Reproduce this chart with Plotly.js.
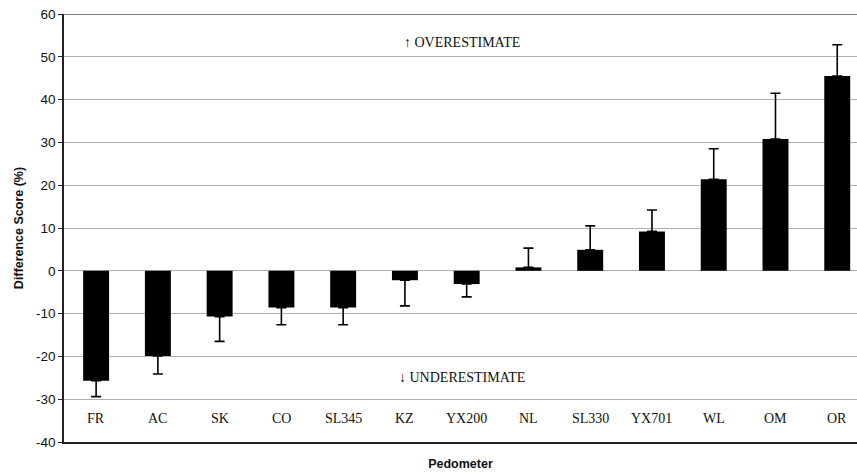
<!DOCTYPE html>
<html><head><meta charset="utf-8">
<script src="https://cdn.plot.ly/plotly-3.0.1.min.js"></script>
<style>html,body{margin:0;padding:0;background:#fff}#chart{width:857px;height:473px}</style>
</head><body><div id="chart"></div>
<script>
const categories = ["FR","AC","SK","CO","SL345","KZ","YX200","NL","SL330","YX701","WL","OM","OR"];
const meanDiff   = [-25.7,-19.9,-10.7,-8.6,-8.6,-2.2,-3.1,0.8,4.9,9.2,21.4,30.8,45.5];
const errSD      = [3.7,4.2,5.8,4.0,4.0,6.0,3.0,4.5,5.6,5.0,7.1,10.7,7.3];
const yTicks     = [-40,-30,-20,-10,0,10,20,30,40,50,60];
const notes      = [{text:"↑ OVERESTIMATE", x:5.93, y:53.3},{text:"↓ UNDERESTIMATE", x:5.93, y:-24.9}];
const labelY     = -34.6;

const errUp   = meanDiff.map((v,i)=> v>=0 ? errSD[i] : 0);
const errDown = meanDiff.map((v,i)=> v<0 ? errSD[i] : 0);

const trace = {
  type:'bar', x:categories, y:meanDiff,
  marker:{color:'#000'}, width:0.42,
  error_y:{type:'data', symmetric:false, array:errUp, arrayminus:errDown, color:'#000', thickness:1.6, width:5}
};

const annotations = categories.map(c=>({x:c, y:labelY, text:c, showarrow:false, xref:'x', yref:'y',
  font:{family:'Liberation Serif, Times New Roman, serif', size:14, color:'#111'}}))
 .concat(notes.map(n=>({x:n.x, y:n.y, text:n.text, showarrow:false, xref:'x', yref:'y',
  font:{family:'Liberation Serif, Times New Roman, serif', size:14, color:'#111'}})));

const layout = {
  width:857, height:473,
  margin:{l:64, r:0, t:14, b:31},
  paper_bgcolor:'#fff', plot_bgcolor:'#fff',
  showlegend:false,
  font:{family:'Liberation Sans, Arial, sans-serif', color:'#111'},
  xaxis:{type:'category', range:[-0.52,12.32], showticklabels:false, ticks:'', showgrid:false,
    showline:true, linecolor:'#222', linewidth:1.5, zeroline:false,
    title:{text:'<b>Pedometer</b>', font:{size:12.5, family:'Liberation Sans, Arial, sans-serif'}, standoff:16}},
  yaxis:{range:[-40,60], tickvals:yTicks, ticktext:yTicks.map(String), ticks:'outside', ticklen:4, tickcolor:'#222',
    showline:true, linecolor:'#222', linewidth:1.5, showgrid:true, gridcolor:'#b0b0b0', gridwidth:1,
    zeroline:false, tickfont:{size:13.5},
    title:{text:'<b>Difference Score (%)</b>', font:{size:12.5}, standoff:10}},
  annotations:annotations,
  shapes:[{type:'line', xref:'paper', yref:'y', x0:0, x1:1, y0:60, y1:60, line:{color:'#555', width:1.3}}]
};
Plotly.newPlot('chart',[trace],layout,{displayModeBar:false});
</script></body></html>
